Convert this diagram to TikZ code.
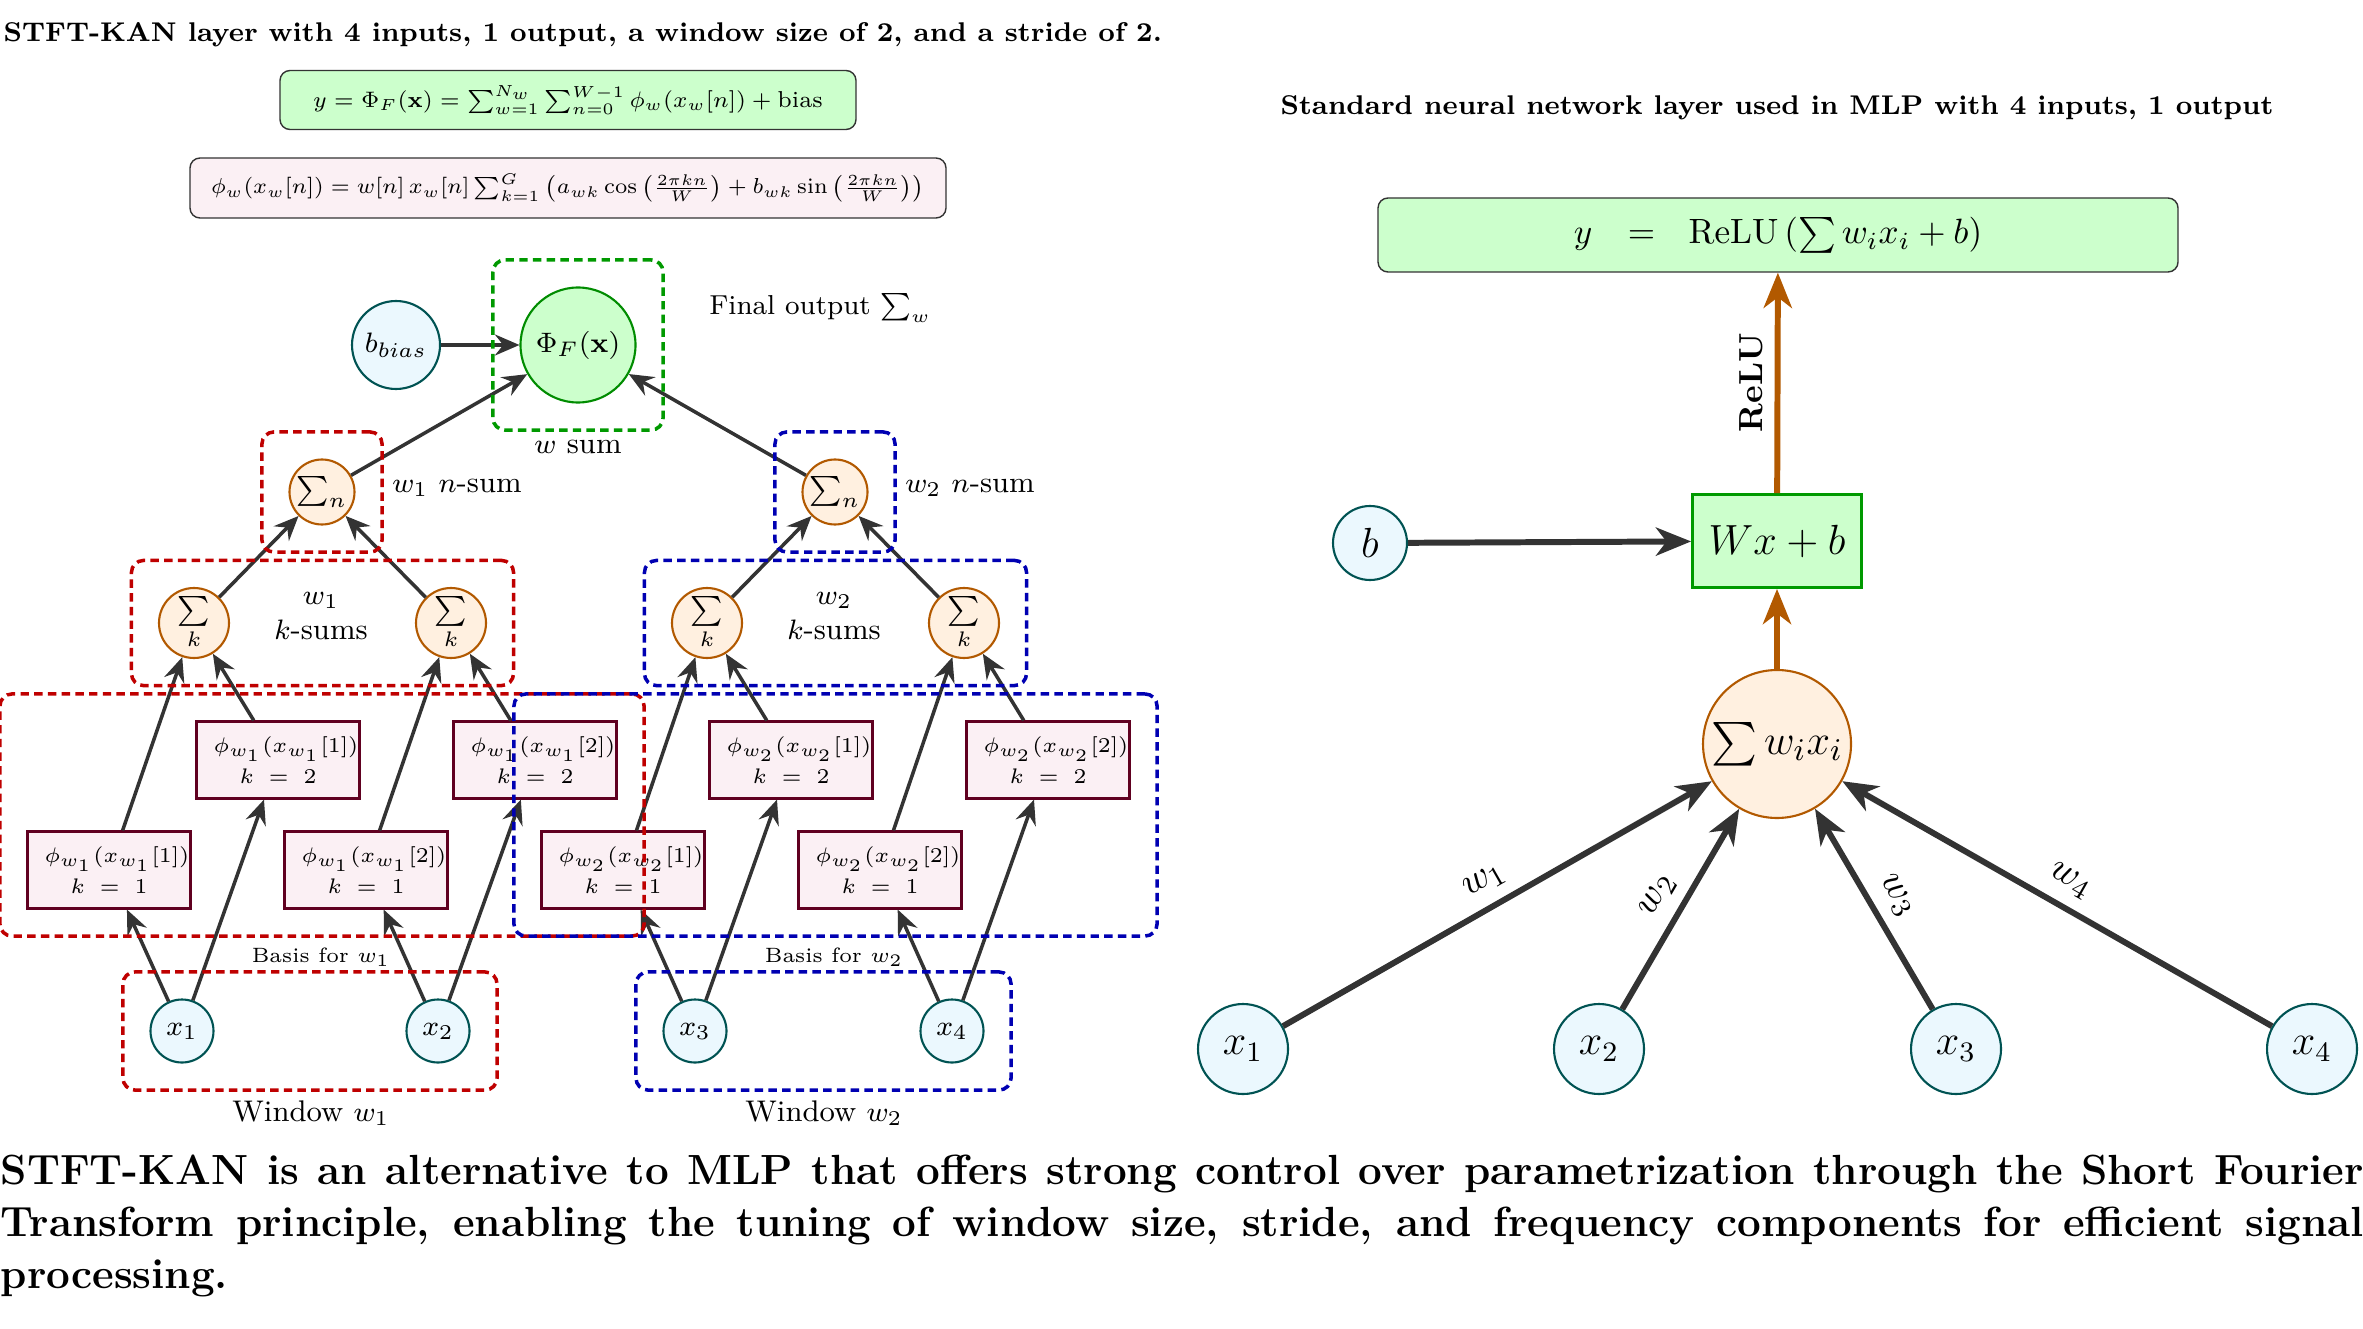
\documentclass[tikz,border=0pt]{standalone}
\usepackage{amsmath}
\usepackage{amssymb}
\usepackage{tikz}
\usetikzlibrary{
  arrows.meta,
  chains,
  fit,
  positioning,
  scopes
}

\begin{document}
\begin{tikzpicture}[
      x=1mm, y=-1mm,
      >={Stealth[length=7pt,width=6pt,inset=2.4pt]},
      inp/.style={
         circle,
         minimum size=6.3mm,
         inner sep=0pt,
         semithick,
         draw=teal!65!black,
         fill=cyan!8,
         font=\fontsize{8.5}{10}\selectfont
      },
      sumnode/.style={
         circle,
         minimum size=7mm,
         inner sep=0pt,
         semithick,
         draw=orange!70!black,
         fill=orange!12,
         font=\fontsize{8.5}{10}\selectfont
      },
      basisbox/.style={
         rectangle,
         minimum width=16.3mm,
         minimum height=7.7mm,
         inner sep=0pt,
         semithick,
         draw=purple!50!black,
         fill=purple!6,
         align=center,
         font=\fontsize{6.5}{8.6}\selectfont
      },
      outnode/.style={
         circle,
         minimum size=11.5mm,
         inner sep=0pt,
         semithick,
         draw=green!55!black,
         fill=green!20,
         font=\fontsize{8.5}{10}\selectfont
      },
      eqbox/.style={
         rectangle,
         rounded corners=1mm,
         inner sep=0pt,
         draw=black!80,
         font=\fontsize{7.2}{9}\selectfont
      },
      grp/.style={
         rectangle,
         rounded corners=1.2mm,
         inner sep=2.65mm,
         line width=1pt,
         dash pattern=on 2.4pt off 1.5pt
      },
      txt/.style={font=\fontsize{8.5}{10}\selectfont},
      head/.style={font=\bfseries\fontsize{7.7}{9.5}\selectfont},
      tip/.style={->},
      every join/.style={draw=black!80, line width=1pt},
      bigtip/.style={
         ->, >={Stealth[length=10pt,width=8pt,inset=3pt]},
         draw=black!80, line width=1.7pt
      },
      relu/.style={bigtip, draw=orange!70!black},
      wlab/.style={font=\fontsize{11}{13}\selectfont}
    ]
    \useasboundingbox (0,0) rectangle (236.3,132.9);

    % STFT-KAN side
    \node[head, anchor=west, inner sep=0pt] (kantitle) at (0.3,3.5)
       {STFT-KAN layer with 4 inputs, 1 output, a window size of 2, and a stride of 2.};
    \node[eqbox, fill=green!20, minimum width=57.6mm, minimum height=5.9mm] (kaneq) at (56.8,10.0)
       {\scalebox{0.91}{$y = \Phi_F(\mathbf{x}) = \sum_{w=1}^{N_w}\sum_{n=0}^{W-1}\phi_w(x_w[n]) + \text{bias}$}};
    \node[eqbox, fill=purple!6, minimum width=75.6mm, minimum height=6.0mm] (phieq) at (56.8,18.8)
       {\scalebox{0.88}{$\phi_w(x_w[n]) = w[n]\,x_w[n]\sum_{k=1}^{G}\left(a_{wk}\cos\left(\frac{2\pi kn}{W}\right) + b_{wk}\sin\left(\frac{2\pi kn}{W}\right)\right)$}};

    \node[outnode] (phi) at (57.8,34.5) {$\Phi_F(\mathbf{x})$};
    \node[inp, minimum size=8.8mm] (bb) at (39.6,34.5) {$b_{bias}$};

    \node[sumnode, minimum size=6.5mm] (sn1) at (32.2,49.2) {$\sum_n$};
    \node[sumnode, minimum size=6.5mm] (sn2) at (83.5,49.2) {$\sum_n$};

    \node[sumnode] (sk1) at (19.4,62.3) {$\sum\limits_k$};
    \node[sumnode] (sk2) at (45.1,62.3) {$\sum\limits_k$};
    \node[sumnode] (sk3) at (70.7,62.3) {$\sum\limits_k$};
    \node[sumnode] (sk4) at (96.4,62.3) {$\sum\limits_k$};

    \node[basisbox] (u1) at (27.8,76.0) {\hspace*{1.6mm}$\phi_{w_1}(x_{w_1}[1])$\\$k\;=\;2$};
    \node[basisbox] (u2) at (53.5,76.0) {\hspace*{1.6mm}$\phi_{w_1}(x_{w_1}[2])$\\$k\;=\;2$};
    \node[basisbox] (u3) at (79.1,76.0) {\hspace*{1.6mm}$\phi_{w_2}(x_{w_2}[1])$\\$k\;=\;2$};
    \node[basisbox] (u4) at (104.8,76.0) {\hspace*{1.6mm}$\phi_{w_2}(x_{w_2}[2])$\\$k\;=\;2$};

    \node[basisbox] (l1) at (10.9,87.0) {\hspace*{1.6mm}$\phi_{w_1}(x_{w_1}[1])$\\$k\;=\;1$};
    \node[basisbox] (l2) at (36.6,87.0) {\hspace*{1.6mm}$\phi_{w_1}(x_{w_1}[2])$\\$k\;=\;1$};
    \node[basisbox] (l3) at (62.3,87.0) {\hspace*{1.6mm}$\phi_{w_2}(x_{w_2}[1])$\\$k\;=\;1$};
    \node[basisbox] (l4) at (88.0,87.0) {\hspace*{1.6mm}$\phi_{w_2}(x_{w_2}[2])$\\$k\;=\;1$};

    \node[inp] (x1) at (18.2,103.1) {$x_1$};
    \node[inp] (x2) at (43.8,103.1) {$x_2$};
    \node[inp] (x3) at (69.5,103.1) {$x_3$};
    \node[inp] (x4) at (95.2,103.1) {$x_4$};

    \node[txt] (wsum) at (57.8,44.7) {$w$ sum};
    \node[anchor=west, font=\fontsize{7.8}{9.5}\selectfont] (final) at (69.7,30.8) {Final output $\sum_w$};
    \node[txt] (nsum1) at (45.7,48.8) {$w_1$ $n$-sum};
    \node[txt] (nsum2) at (97.0,48.8) {$w_2$ $n$-sum};
    \node[txt, align=center] (ksum1) at (32.1,61.6) {$w_1$\\$k$-sums};
    \node[txt, align=center] (ksum2) at (83.4,61.6) {$w_2$\\$k$-sums};
    \node[font=\fontsize{5.9}{7}\selectfont] (basis1) at (32.1,95.7) {Basis for $w_1$};
    \node[font=\fontsize{5.9}{7}\selectfont] (basis2) at (83.4,95.7) {Basis for $w_2$};
    \node[txt] (win1lab) at (31.1,111.3) {Window $w_1$};
    \node[txt] (win2lab) at (82.4,111.3) {Window $w_2$};

  { [start chain]
       \chainin (x1);
       \chainin (l1)    [join=by tip];
       \chainin (sk1)   [join=by tip];
       \chainin (sn1)   [join=by tip];
       \chainin (phi)   [join=by tip];
  }
  { [start chain]
       \chainin (x1);
       \chainin (u1)    [join=by tip];
       \chainin (sk1)   [join=by tip];
  }
  { [start chain]
       \chainin (x2);
       \chainin (l2)    [join=by tip];
       \chainin (sk2)   [join=by tip];
       \chainin (sn1)   [join=by tip];
  }
  { [start chain]
       \chainin (x2);
       \chainin (u2)    [join=by tip];
       \chainin (sk2)   [join=by tip];
  }
  { [start chain]
       \chainin (x3);
       \chainin (l3)    [join=by tip];
       \chainin (sk3)   [join=by tip];
       \chainin (sn2)   [join=by tip];
       \chainin (phi)   [join=by tip];
  }
  { [start chain]
       \chainin (x3);
       \chainin (u3)    [join=by tip];
       \chainin (sk3)   [join=by tip];
  }
  { [start chain]
       \chainin (x4);
       \chainin (l4)    [join=by tip];
       \chainin (sk4)   [join=by tip];
       \chainin (sn2)   [join=by tip];
  }
  { [start chain]
       \chainin (x4);
       \chainin (u4)    [join=by tip];
       \chainin (sk4)   [join=by tip];
  }
  { [start chain]
       \chainin (bb);
       \chainin (phi)   [join=by tip];
  }

    % dashed groups
    \node[grp, draw=green!60!black, fit=(phi)] (wgrp) {};
    \node[grp, draw=red!75!black, fit=(sn1)] (ngrp1) {};
    \node[grp, draw=blue!70!black, fit=(sn2)] (ngrp2) {};
    \node[grp, draw=red!75!black, fit=(sk1)(sk2)] (kgrp1) {};
    \node[grp, draw=blue!70!black, fit=(sk3)(sk4)] (kgrp2) {};
    \node[grp, draw=red!75!black, fit=(l1)(u2)] (bgrp1) {};
    \node[grp, draw=blue!70!black, fit=(l3)(u4)] (bgrp2) {};
    \node[grp, draw=red!75!black, fit=(x1)(x2)] (win1) {};
    \node[grp, draw=blue!70!black, fit=(x3)(x4)] (win2) {};

    % MLP side
    \node[head] (mlptitle) at (177.7,10.8)
       {Standard neural network layer used in MLP with 4 inputs, 1 output};
    \node[eqbox, fill=green!20, minimum width=80mm, minimum height=7.4mm,
          font=\fontsize{10.2}{12}\selectfont] (yout) at (177.8,23.5)
       {$y \hspace{7.3pt} = \hspace{6.8pt} \mathrm{ReLU}\left(\sum w_i x_i + b\right)$};
    \node[rectangle, minimum width=16.9mm, minimum height=9.3mm, thick,
          draw=green!60!black, fill=green!20,
          font=\fontsize{12.4}{14}\selectfont] (lin) at (177.7,54.1) {$Wx+b$};
    \node[inp, minimum size=7.4mm, font=\fontsize{12}{14}\selectfont] (b) at (137.0,54.3) {$b$};
    \node[sumnode, minimum size=14.8mm, font=\fontsize{12.4}{14}\selectfont] (neur) at (177.7,74.4) {$\sum w_i x_i$};

    \node[inp, minimum size=9mm, font=\fontsize{12}{14}\selectfont] (m1) at (124.3,104.9) {$x_1$};
    \node[inp, minimum size=9mm, font=\fontsize{12}{14}\selectfont] (m2) at (159.9,104.9) {$x_2$};
    \node[inp, minimum size=9mm, font=\fontsize{12}{14}\selectfont] (m3) at (195.6,104.9) {$x_3$};
    \node[inp, minimum size=9mm, font=\fontsize{12}{14}\selectfont] (m4) at (231.2,104.9) {$x_4$};

    \draw[bigtip] (m1) -- node[wlab, sloped, above] {$w_1$} (neur);
    \draw[bigtip] (m2) -- node[wlab, sloped, above] {$w_2$} (neur);
    \draw[bigtip] (m3) -- node[wlab, sloped, above] {$w_3$} (neur);
    \draw[bigtip] (m4) -- node[wlab, sloped, above] {$w_4$} (neur);
    \draw[relu] (neur) -- (lin);
    \draw[bigtip] (b) -- (lin);
    \draw[relu] (lin) -- node[sloped, above, font=\bfseries\fontsize{9.5}{11}\selectfont] {ReLU} (yout);

    % caption
    \node[anchor=north west, inner sep=0pt, text width=236.3mm, align=justify,
          font=\bfseries\fontsize{12}{14.9}\selectfont] (cap) at (0,115.4)
       {\noindent STFT-KAN is an alternative to MLP that offers strong control over parametrization through the Short Fourier\linebreak
        Transform principle, enabling the tuning of window size, stride, and frequency components for efficient signal\linebreak
        processing.};
\end{tikzpicture}
\end{document}
